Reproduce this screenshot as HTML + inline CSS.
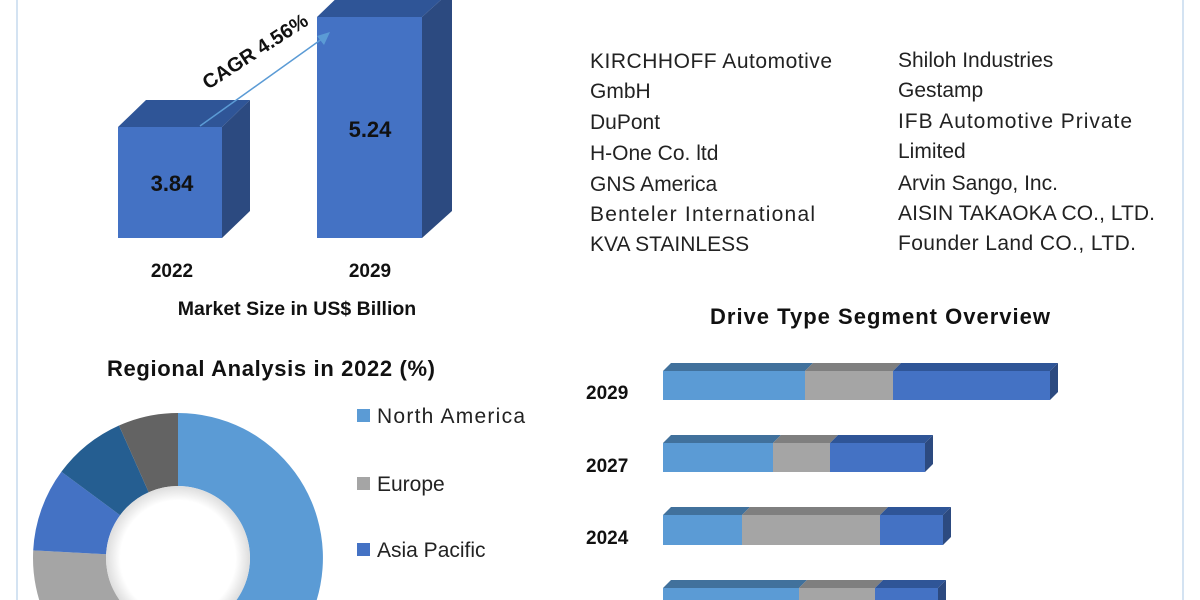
<!DOCTYPE html>
<html><head><meta charset="utf-8"><style>
html,body{margin:0;padding:0;background:#fff;width:1200px;height:600px;overflow:hidden;}
svg{display:block;font-family:"Liberation Sans",sans-serif;}
.b{font-weight:bold;fill:#111;}
.t{fill:#222;font-size:21px;}
</style></head><body>
<svg width="1200" height="600" viewBox="0 0 1200 600">
<defs>
<radialGradient id="sh" cx="50%" cy="50%" r="50%">
<stop offset="0.8" stop-color="#fff"/><stop offset="1" stop-color="#ddd"/>
</radialGradient>
</defs>
<rect width="1200" height="600" fill="#fff"/>
<line x1="17" y1="0" x2="17" y2="600" stroke="#d4e3f2" stroke-width="2"/>
<line x1="1183" y1="0" x2="1183" y2="600" stroke="#d4e3f2" stroke-width="2"/>

<polygon points="118,127 146,100 250,100 222,127" fill="#2f5597"/>
<polygon points="222,127 250,100 250,211 222,238" fill="#2c4a80"/>
<rect x="118" y="127" width="104" height="111" fill="#4472c4"/>
<polygon points="317,17 345,-10 452,-10 422,17" fill="#2f5597"/>
<polygon points="422,17 452,-10 452,211 422,238" fill="#2c4a80"/>
<rect x="317" y="17" width="105" height="221" fill="#4472c4"/>
<text x="172" y="191" class="b" font-size="22" text-anchor="middle">3.84</text>
<text x="370" y="137" class="b" font-size="22" text-anchor="middle">5.24</text>
<line x1="200" y1="126" x2="326" y2="36" stroke="#5b9bd5" stroke-width="1.5"/>
<polygon points="330,32 317,36 324,45" fill="#5b9bd5"/>
<text x="0" y="0" class="b" font-size="20" transform="translate(208,90) rotate(-33)">CAGR 4.56%</text>
<text x="172" y="277" class="b" font-size="19" text-anchor="middle">2022</text>
<text x="370" y="277" class="b" font-size="19" text-anchor="middle">2029</text>
<text x="297" y="315" class="b" font-size="19.5" text-anchor="middle">Market Size in US$ Billion</text>

<g class="t">
<text x="590" y="68" textLength="242">KIRCHHOFF Automotive</text>
<text x="590" y="98">GmbH</text>
<text x="590" y="129">DuPont</text>
<text x="590" y="160">H-One Co. ltd</text>
<text x="590" y="191">GNS America</text>
<text x="590" y="221" textLength="225">Benteler International</text>
<text x="590" y="251">KVA STAINLESS</text>
<text x="898" y="67">Shiloh Industries</text>
<text x="898" y="97">Gestamp</text>
<text x="898" y="128" textLength="234">IFB Automotive Private</text>
<text x="898" y="158">Limited</text>
<text x="898" y="190">Arvin Sango, Inc.</text>
<text x="898" y="220" textLength="257">AISIN TAKAOKA CO., LTD.</text>
<text x="898" y="250" textLength="238">Founder Land CO., LTD.</text>
</g>

<text x="880" y="324" class="b" font-size="22" text-anchor="middle" textLength="340">Drive Type Segment Overview</text>
<g class="b" font-size="19">
<text x="586" y="399">2029</text>
<text x="586" y="472">2027</text>
<text x="586" y="544">2024</text>
</g>
<polygon points="663,371 671,363 813,363 805,371" fill="#41719c"/>
<polygon points="805,371 813,363 901,363 893,371" fill="#7f7f7f"/>
<polygon points="893,371 901,363 1058,363 1050,371" fill="#2f5597"/>
<polygon points="1050,371 1058,363 1058,392 1050,400" fill="#2c4a80"/>
<rect x="663" y="371" width="142" height="29" fill="#5b9bd5"/>
<rect x="805" y="371" width="88" height="29" fill="#a5a5a5"/>
<rect x="893" y="371" width="157" height="29" fill="#4472c4"/>
<polygon points="663,443 671,435 781,435 773,443" fill="#41719c"/>
<polygon points="773,443 781,435 838,435 830,443" fill="#7f7f7f"/>
<polygon points="830,443 838,435 933,435 925,443" fill="#2f5597"/>
<polygon points="925,443 933,435 933,464 925,472" fill="#2c4a80"/>
<rect x="663" y="443" width="110" height="29" fill="#5b9bd5"/>
<rect x="773" y="443" width="57" height="29" fill="#a5a5a5"/>
<rect x="830" y="443" width="95" height="29" fill="#4472c4"/>
<polygon points="663,515 671,507 750,507 742,515" fill="#41719c"/>
<polygon points="742,515 750,507 888,507 880,515" fill="#7f7f7f"/>
<polygon points="880,515 888,507 951,507 943,515" fill="#2f5597"/>
<polygon points="943,515 951,507 951,537 943,545" fill="#2c4a80"/>
<rect x="663" y="515" width="79" height="30" fill="#5b9bd5"/>
<rect x="742" y="515" width="138" height="30" fill="#a5a5a5"/>
<rect x="880" y="515" width="63" height="30" fill="#4472c4"/>
<polygon points="663,588 671,580 807,580 799,588" fill="#41719c"/>
<polygon points="799,588 807,580 883,580 875,588" fill="#7f7f7f"/>
<polygon points="875,588 883,580 946,580 938,588" fill="#2f5597"/>
<polygon points="938,588 946,580 946,600 938,600" fill="#2c4a80"/>
<rect x="663" y="588" width="136" height="12" fill="#5b9bd5"/>
<rect x="799" y="588" width="76" height="12" fill="#a5a5a5"/>
<rect x="875" y="588" width="63" height="12" fill="#4472c4"/>

<text x="271" y="376" class="b" font-size="22" text-anchor="middle" textLength="328">Regional Analysis in 2022 (%)</text>
<g transform="translate(178,558)">
<path d="M0,-145 A145,145 0 1 1 -83.2,118.8 L-41.3,59 A72,72 0 1 0 0,-72 Z" fill="#5b9bd5"/>
<path d="M-83.2,118.8 A145,145 0 0 1 -144.8,-7.6 L-71.9,-3.8 A72,72 0 0 0 -41.3,59 Z" fill="#a5a5a5"/>
<path d="M-144.8,-7.6 A145,145 0 0 1 -116.6,-86.2 L-57.9,-42.8 A72,72 0 0 0 -71.9,-3.8 Z" fill="#4472c4"/>
<path d="M-116.6,-86.2 A145,145 0 0 1 -59,-132.5 L-29.3,-65.8 A72,72 0 0 0 -57.9,-42.8 Z" fill="#255e91"/>
<path d="M-59,-132.5 A145,145 0 0 1 0,-145 L0,-72 A72,72 0 0 0 -29.3,-65.8 Z" fill="#636363"/>
<circle r="72" fill="url(#sh)"/>
</g>
<rect x="357" y="409" width="13" height="13" fill="#5b9bd5"/>
<text x="377" y="423" class="t" textLength="148">North America</text>
<rect x="357" y="477" width="13" height="13" fill="#a5a5a5"/>
<text x="377" y="491" class="t">Europe</text>
<rect x="357" y="543" width="13" height="13" fill="#4472c4"/>
<text x="377" y="557" class="t">Asia Pacific</text>
</svg>
</body></html>
